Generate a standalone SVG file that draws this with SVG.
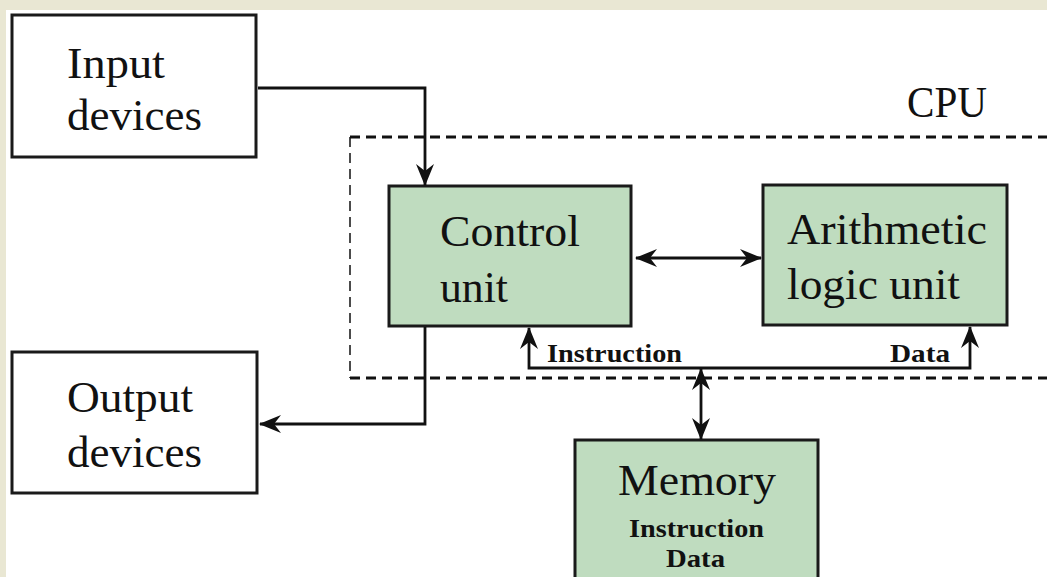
<svg xmlns="http://www.w3.org/2000/svg" width="1047" height="577" viewBox="0 0 1047 577">
  <style>
    .box { stroke: #1a1a1a; stroke-width: 3; }
    .plain { fill: #ffffff; }
    .green { fill: #bfdcbf; }
    .big { font-family: 'Liberation Serif', serif; font-size: 44px; fill: #111; }
    .small { font-family: 'Liberation Serif', serif; font-size: 25px; font-weight: bold; fill: #111; }
    .conn { fill: none; stroke: #111; stroke-width: 2.8; }
    .dash { fill: none; stroke: #111; }
  </style>
  <defs>
    <marker id="arr" markerUnits="userSpaceOnUse" markerWidth="22" markerHeight="18" viewBox="0 0 22 18" refX="21" refY="9" orient="auto-start-reverse">
      <path d="M0,0 L22,9 L0,18 L7,9 Z" fill="#111"/>
    </marker>
  </defs>

  <rect x="0" y="0" width="1047" height="577" fill="#e9e7d3"/>
  <rect x="6" y="10" width="1041" height="567" fill="#ffffff"/>

  <g id="cpu-boundary">
    <path class="dash" d="M350,137 H1047 M350,378 H1047" stroke-width="3" stroke-dasharray="10,6"/>
    <path class="dash" d="M350,137 V378" stroke-width="1.5" stroke-dasharray="10,6"/>
    <text class="big" font-family="Liberation Serif" x="907" y="117" textLength="80" lengthAdjust="spacingAndGlyphs">CPU</text>
  </g>

  <g id="input-devices">
    <rect class="box plain" x="12" y="15" width="244" height="142"/>
    <text class="big" font-family="Liberation Serif" x="67" y="78" textLength="98" lengthAdjust="spacingAndGlyphs">Input</text>
    <text class="big" font-family="Liberation Serif" x="67" y="130" textLength="135" lengthAdjust="spacingAndGlyphs">devices</text>
  </g>

  <g id="output-devices">
    <rect class="box plain" x="12" y="352" width="245" height="141"/>
    <text class="big" font-family="Liberation Serif" x="67" y="412" textLength="126" lengthAdjust="spacingAndGlyphs">Output</text>
    <text class="big" font-family="Liberation Serif" x="67" y="467" textLength="135" lengthAdjust="spacingAndGlyphs">devices</text>
  </g>

  <g id="control-unit">
    <rect class="box green" x="389" y="186" width="242" height="140"/>
    <text class="big" font-family="Liberation Serif" x="440" y="246" textLength="140" lengthAdjust="spacingAndGlyphs">Control</text>
    <text class="big" font-family="Liberation Serif" x="440" y="302" textLength="68" lengthAdjust="spacingAndGlyphs">unit</text>
  </g>

  <g id="alu">
    <rect class="box green" x="763" y="185" width="244" height="140"/>
    <text class="big" font-family="Liberation Serif" x="787" y="244" textLength="200" lengthAdjust="spacingAndGlyphs">Arithmetic</text>
    <text class="big" font-family="Liberation Serif" x="787" y="299" textLength="173" lengthAdjust="spacingAndGlyphs">logic unit</text>
  </g>

  <g id="memory">
    <rect class="box green" x="575" y="440" width="243" height="150"/>
    <text class="big" font-family="Liberation Serif" x="618" y="495" textLength="158" lengthAdjust="spacingAndGlyphs">Memory</text>
    <text class="small" font-family="Liberation Serif" x="629" y="537" textLength="135" lengthAdjust="spacingAndGlyphs">Instruction</text>
    <text class="small" font-family="Liberation Serif" x="666" y="567" textLength="59" lengthAdjust="spacingAndGlyphs">Data</text>
  </g>

  <g id="connectors">
    <path class="conn" d="M258,88 H425 V185" marker-end="url(#arr)"/>
    <path class="conn" d="M425,327 V424 H260" marker-end="url(#arr)"/>
    <path class="conn" d="M636,258 H761" marker-start="url(#arr)" marker-end="url(#arr)"/>
    <path class="conn" d="M529,328 V368 H970 V327" marker-start="url(#arr)" marker-end="url(#arr)"/>
    <path class="conn" d="M701,369 V439" marker-start="url(#arr)" marker-end="url(#arr)"/>
    <text class="small" font-family="Liberation Serif" x="547" y="362" textLength="135" lengthAdjust="spacingAndGlyphs">Instruction</text>
    <text class="small" font-family="Liberation Serif" x="890" y="362" textLength="60" lengthAdjust="spacingAndGlyphs">Data</text>
  </g>
</svg>
